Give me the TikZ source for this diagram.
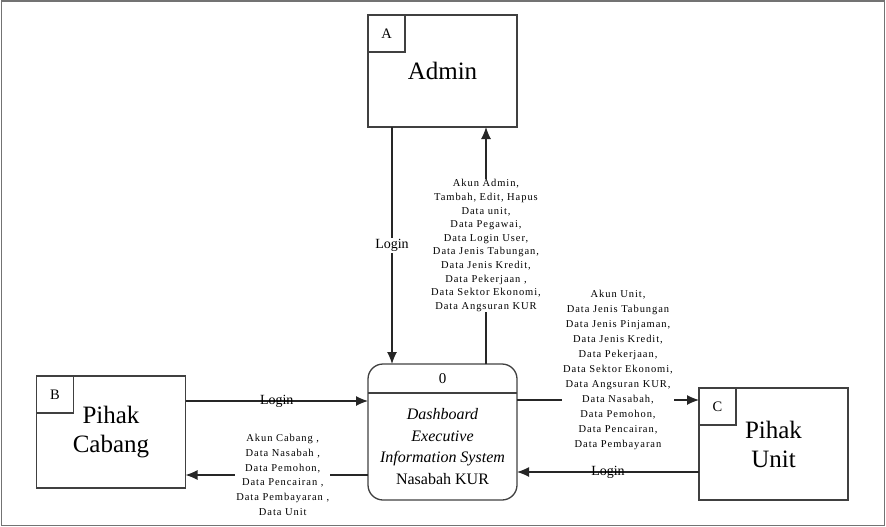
\documentclass[tikz,border=0pt]{standalone}
\usepackage{fontspec}
\setmainfont{Liberation Serif}
\newfontfamily\flowfont[LetterSpace=9]{Liberation Serif}
\usetikzlibrary{calc,arrows.meta}

\begin{document}
\begin{tikzpicture}[x=1pt,y=-1pt,every node/.style={outer sep=0pt}]
\tikzstyle{entity}=[draw=black!75,line width=1.3pt,minimum width=149pt,minimum height=112pt,align=center,font=\fontsize{25}{29}\selectfont]
\tikzstyle{tag}=[draw=black!75,line width=1.1pt,minimum size=37pt,anchor=north west,font=\fontsize{14.5}{16}\selectfont]
\tikzstyle{flow}=[line width=1.2pt,black!85,-{Latex[length=12pt,width=10pt]}]
\tikzstyle{login}=[font=\fontsize{14}{16}\selectfont,inner sep=1pt,text=black]
\tikzset{flowtext/.style={fill=white,align=center,inner sep=1pt,text=black,font=\flowfont\fontsize{10.5}{#1}\selectfont}}

\useasboundingbox (0,0) rectangle (886,527);
\draw [black!55,line width=1.5pt] (1.5,1) rectangle (884.5,525.5);

% external entities
\node (admin) [entity] at (442.5,71) {Admin};
\node (tagA) [tag] at (admin.north west) {A};

\node (cabang) [entity] at (111,432) {Pihak\\Cabang};
\node (tagB) [tag] at (cabang.north west) {B};

\node (unit) [entity] at (773.5,444) {Pihak\\Unit};
\node (tagC) [tag] at (unit.north west) {C};

% process
\node (proc) [draw=black!75,line width=1.3pt,rounded corners=15pt,minimum width=149pt,minimum height=136pt] at (442.5,432) {};
\draw [black!75,line width=1.3pt] ($(proc.north west)+(0,29)$) -- ($(proc.north east)+(0,29)$);
\node (procno) [font=\fontsize{15}{17}\selectfont] at ($(proc.north)+(0,14.5)$) {0};
\node (procname) [align=center,font=\fontsize{16}{21.5}\selectfont] at ($(proc.south)+(0,-53.5)$)
  {\textit{Dashboard}\\\textit{Executive}\\\textit{Information System}\\Nasabah KUR};

% flows with admin
\draw [flow] ($(admin.south west)+(24,0)$) -- node [login,fill=white] {Login} ($(proc.north west)+(24,0)$);
\draw [flow] ($(proc.north west)+(118,0)$) -- node [flowtext=13.6] {Akun Admin,\\Tambah, Edit, Hapus\\Data unit,\\Data Pegawai,\\Data Login User,\\Data Jenis Tabungan,\\Data Jenis Kredit,\\Data Pekerjaan ,\\Data Sektor Ekonomi,\\Data Angsuran KUR} ($(admin.south west)+(118,0)$);

% flows with cabang
\draw [flow] ($(cabang.north east)+(0,25)$) -- node [login] {Login} ($(proc.north west)+(0,37)$);
\draw [flow] ($(proc.north west)+(0,111)$) -- node [flowtext=14.8,xshift=6pt] {Akun Cabang ,\\Data Nasabah ,\\Data Pemohon,\\Data Pencairan ,\\Data Pembayaran ,\\Data Unit} ($(cabang.north east)+(0,99)$);

% flows with unit
\draw [flow] ($(proc.north east)+(0,36)$) -- node [flowtext=15,xshift=10pt,yshift=30pt] {Akun Unit,\\Data Jenis Tabungan\\Data Jenis Pinjaman,\\Data Jenis Kredit,\\Data Pekerjaan,\\Data Sektor Ekonomi,\\Data Angsuran KUR,\\Data Nasabah,\\Data Pemohon,\\Data Pencairan,\\Data Pembayaran} ($(unit.north west)+(0,12)$);
\draw [flow] ($(unit.north west)+(0,84)$) -- node [login] {Login} ($(proc.north east)+(0,108)$);
\end{tikzpicture}
\end{document}
